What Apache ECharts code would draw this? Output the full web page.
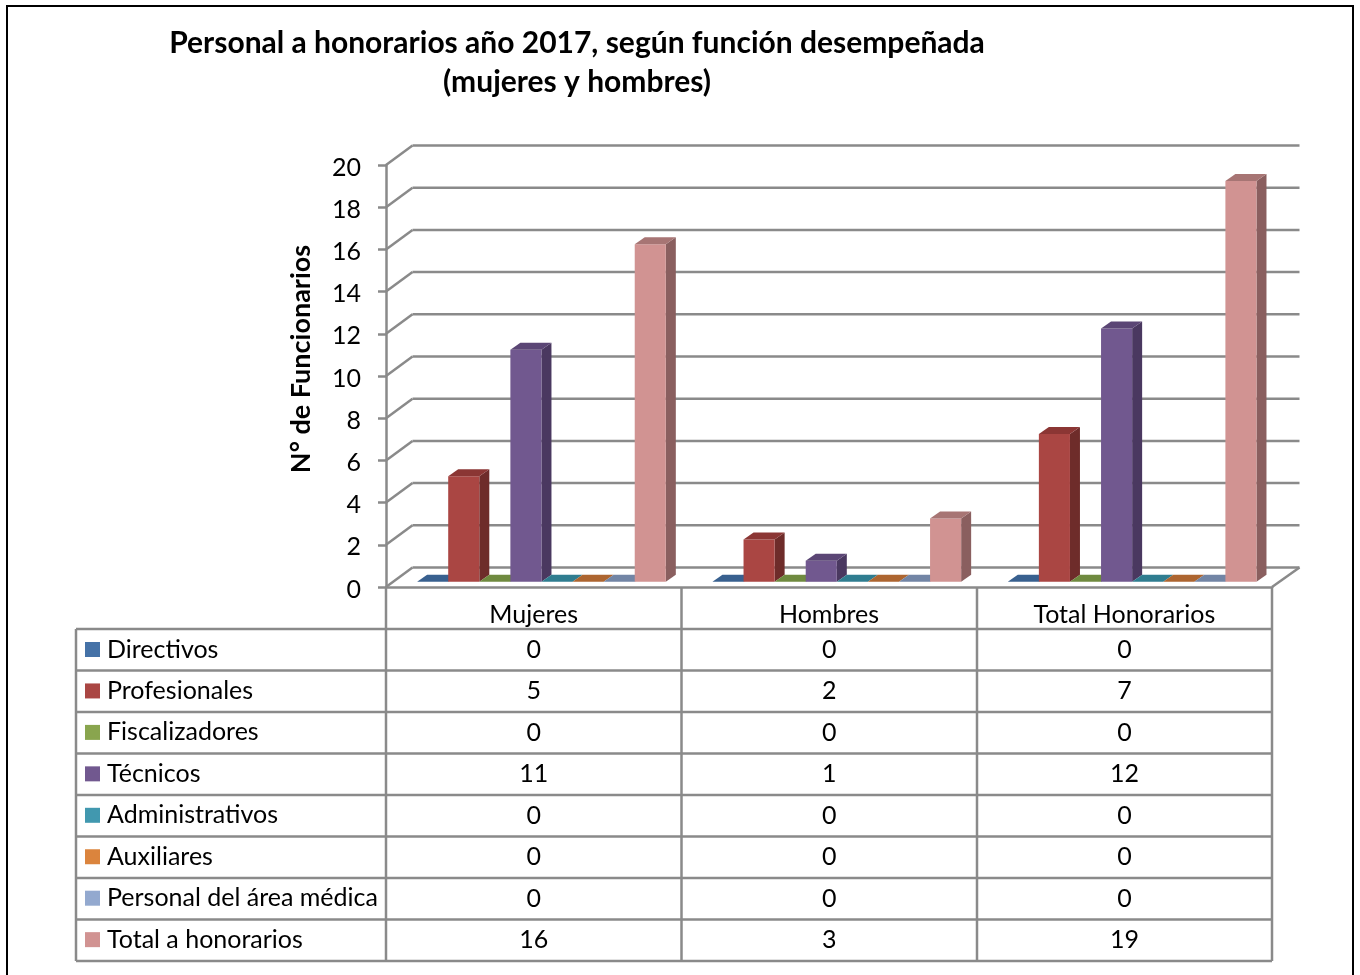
<!DOCTYPE html>
<html><head><meta charset="utf-8">
<style>html,body{margin:0;padding:0;background:#fff}#c{width:1360px;height:975px}</style>
<script src="https://cdn.jsdelivr.net/npm/echarts@6/dist/echarts.min.js"></script>
</head><body><div id="c"></div>
<script>
const categories = ['Mujeres', 'Hombres', 'Total Honorarios'];
const seriesNames = ['Directivos','Profesionales','Fiscalizadores','Técnicos','Administrativos','Auxiliares','Personal del área médica','Total a honorarios'];
const directivos = [0,0,0];
const profesionales = [5,2,7];
const fiscalizadores = [0,0,0];
const tecnicos = [11,1,12];
const administrativos = [0,0,0];
const auxiliares = [0,0,0];
const personalMedico = [0,0,0];
const totalHonorarios = [16,3,19];
const seriesValues = [directivos,profesionales,fiscalizadores,tecnicos,administrativos,auxiliares,personalMedico,totalHonorarios];
const yTicks = [0,2,4,6,8,10,12,14,16,18,20];
const front = ['#4572A7','#AA4643','#89A54E','#71588F','#4198AF','#DB843D','#93A9CF','#D19392'];
const side  = ['#2f5079','#6e2c2a','#5c7034','#4a3860','#2b6778','#96592a','#65738e','#8a5f5f'];
const top_  = ['#38608f','#8b3634','#6f8a3f','#5b4675','#2f7d90','#ad6530','#7285a5','#a77574'];

const FONT = 'Lato';
const GRID = {left:386, top:165, width:886, height:422};
const WALL_DX = 26.5, WALL_DY = 19.5, LINE = '#8a8a8a', LW = 2.5;
const BAR_DX = 10, BAR_DY = 7, FLOOR_LIFT = 5.2, BAR_SHIFT = 7.8;
const ROW_Y = [629,670.5,712,753.5,795,836.5,878,919.5,961];
const COL_X = [76,386,681.5,977,1272];

function renderWall(params, api){
  const v = api.value(0), cs = params.coordSys;
  const y = api.coord([0, v])[1], x0 = cs.x, x1 = cs.x + cs.width;
  const shape = (a,b,c,d)=>({type:'line',shape:{x1:a,y1:b,x2:c,y2:d},style:{stroke:LINE,lineWidth:LW}});
  const ch = [
    shape(x0,y,x0+WALL_DX,y-WALL_DY),
    shape(x0+WALL_DX,y-WALL_DY,x1+WALL_DX+1,y-WALL_DY)
  ];
  if(v===0) ch.push(shape(x1,y,x1+WALL_DX+1,y-WALL_DY));
  return {type:'group',children:ch};
}
function renderBar(idx){
  return function(params, api){
    const c = api.coord([api.value(0), api.value(1)]);
    const base = api.coord([api.value(0), 0])[1] - FLOOR_LIFT;
    const band = api.size([1,0])[0];
    const slot = band/9.5;
    const x = c[0] + BAR_SHIFT + (idx-4)*slot;
    const y = c[1] - FLOOR_LIFT, w = slot;
    const poly = (pts,fill)=>({type:'polygon',shape:{points:pts},style:{fill:fill}});
    const ch = [];
    if(base-y>0.5){
      ch.push(poly([[x+w,y],[x+w+BAR_DX,y-BAR_DY],[x+w+BAR_DX,base-BAR_DY],[x+w,base]],side[idx]));
      ch.push(poly([[x,y],[x+w,y],[x+w,base],[x,base]],front[idx]));
    }
    ch.push(poly([[x,y],[x+BAR_DX,y-BAR_DY],[x+w+BAR_DX,y-BAR_DY],[x+w,y]],top_[idx]));
    return {type:'group',children:ch};
  };
}

const g = [];
g.push({type:'rect',silent:true,z:0,shape:{x:7,y:6,width:1346,height:1000},style:{fill:'none',stroke:'#000',lineWidth:2}});
const tl = (a,b,c,d)=>g.push({type:'line',silent:true,z:5,shape:{x1:a,y1:b,x2:c,y2:d},style:{stroke:LINE,lineWidth:LW}});
ROW_Y.forEach(y=>tl(COL_X[0],y,COL_X[4],y));
COL_X.forEach((x,i)=>tl(x,(i===0?ROW_Y[0]:587),x,ROW_Y[8]));
seriesValues.forEach((vals,r)=>{
  vals.forEach((v,c)=>{
    g.push({type:'text',silent:true,z:6,x:(COL_X[c+1]+COL_X[c+2])/2,y:(ROW_Y[r]+ROW_Y[r+1])/2,
      style:{text:String(v),fill:'#000',font:'25px '+FONT,textAlign:'center',textVerticalAlign:'middle'}});
  });
});

const series = [{
  type:'custom',name:'wall',silent:true,z:1,coordinateSystem:'cartesian2d',
  data:yTicks.map(v=>[v]),encode:{y:0},renderItem:renderWall,tooltip:{show:false}
}];
seriesValues.forEach((vals,i)=>{
  series.push({type:'custom',name:seriesNames[i],z:3+(i/10),coordinateSystem:'cartesian2d',
    itemStyle:{color:front[i]},
    data:vals.map((v,c)=>[c,v]),encode:{x:0,y:1},renderItem:renderBar(i)});
});

const chart = echarts.init(document.getElementById('c'),null,{renderer:'canvas'});
chart.setOption({
  animation:false,
  backgroundColor:'#fff',
  title:{text:'Personal a honorarios año 2017, según función desempeñada\n(mujeres y hombres)',
    left:572,top:19,textAlign:'center',
    textStyle:{fontFamily:FONT,fontWeight:'bold',fontSize:30,lineHeight:39,color:'#000'}},
  legend:{data:seriesNames,orient:'vertical',left:80,top:632,icon:'rect',itemWidth:15,itemHeight:15,itemGap:16.45,
    selectedMode:false,textStyle:{fontFamily:FONT,fontSize:25,color:'#000',padding:[0,0,0,2],lineHeight:24.5}},
  grid:Object.assign({containLabel:false},GRID),
  xAxis:{type:'category',data:categories,boundaryGap:true,
    axisLine:{lineStyle:{color:LINE,width:LW}},axisTick:{show:false},splitLine:{show:false},
    axisLabel:{fontFamily:FONT,fontSize:25,color:'#000',margin:15}},
  yAxis:{type:'value',min:0,max:20,interval:2,name:'N° de Funcionarios',nameLocation:'middle',nameGap:71,nameRotate:90,
    nameTextStyle:{fontFamily:FONT,fontWeight:'bold',fontSize:27,color:'#000',padding:[0,0,0,34]},
    axisLine:{show:true,lineStyle:{color:LINE,width:LW}},axisTick:{show:true,length:8,lineStyle:{color:LINE,width:LW}},
    splitLine:{show:false},axisLabel:{fontFamily:FONT,fontSize:25,color:'#000',margin:25,verticalAlign:'top',lineHeight:5}},
  graphic:{elements:g},
  series:series
});
</script></body></html>
